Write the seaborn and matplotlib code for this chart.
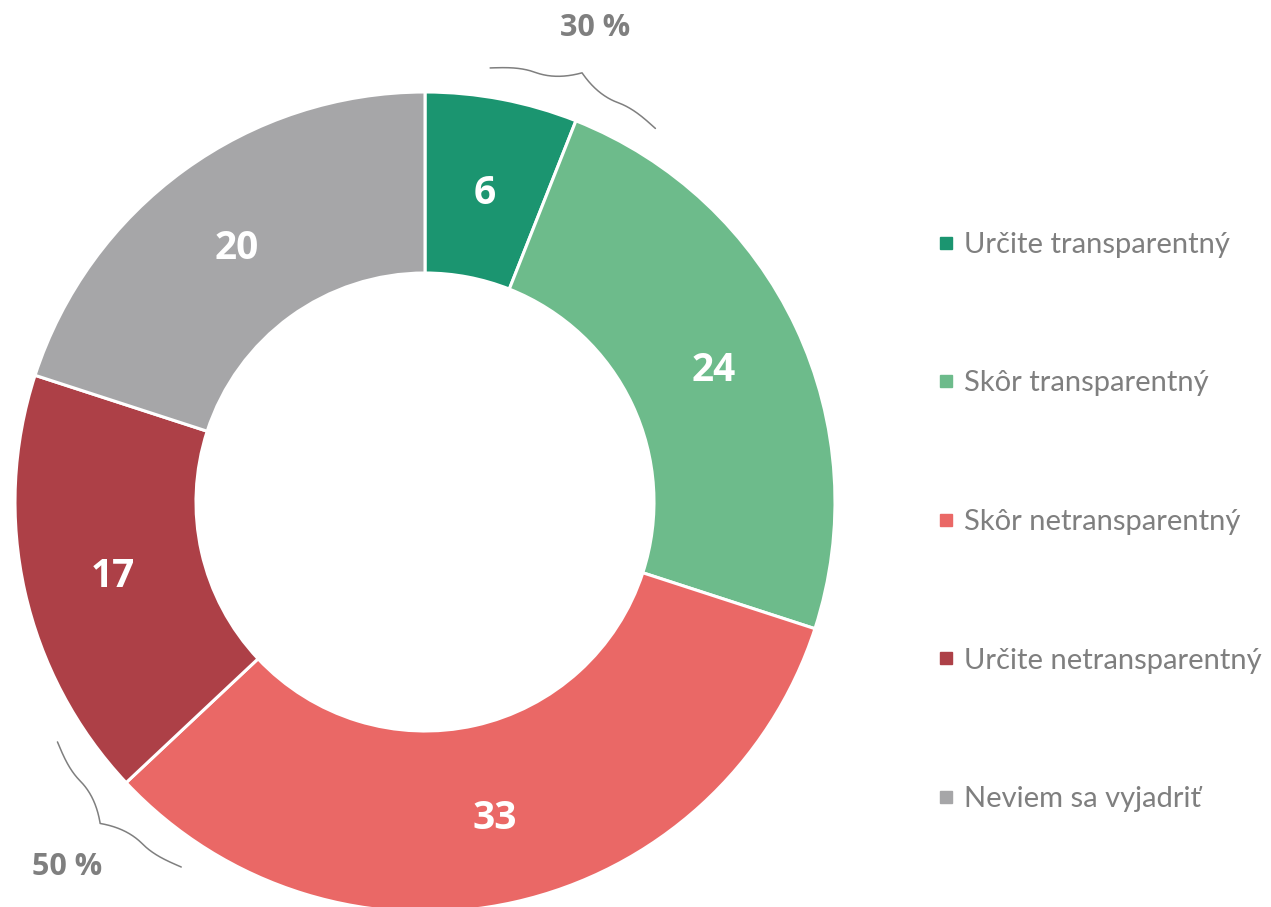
import numpy as np
import matplotlib
matplotlib.use('Agg')
import matplotlib.pyplot as plt
from matplotlib.lines import Line2D
import seaborn as sns

# data
categories = ['Určite transparentný', 'Skôr transparentný', 'Skôr netransparentný',
              'Určite netransparentný', 'Neviem sa vyjadriť']
values = [6, 24, 33, 17, 20]
colors = ['#1B9570', '#6DBB8B', '#EA6866', '#AD4047', '#A6A6A8']

sns.set_theme(style='white')
plt.rcParams['font.family'] = ['Lato', 'DejaVu Sans']
bold_font = ['Open Sans', 'DejaVu Sans']
grey = '#7F7F7F'

W, H = 1271, 907
fig = plt.figure(figsize=(W / 100, H / 100), dpi=100)
ax = fig.add_axes([0, 0, 1, 1])

# pixel-like coordinates, donut centre at (0, 0)
cx, cy = 425, 502
R, r_in = 410, 229

wedges, _ = ax.pie(values, colors=colors, radius=R, startangle=90, counterclock=False,
                   wedgeprops=dict(width=R - r_in, edgecolor='white', linewidth=2.2))
ax.set_xlim(-cx, W - cx)
ax.set_ylim(-(H - cy), cy)
ax.set_aspect('equal', adjustable='box')
ax.axis('off')

# value labels in the middle of the ring
total = sum(values)
mid_r = (R + r_in) / 2
cum = np.cumsum([0] + values)
for i, v in enumerate(values):
    ang = np.deg2rad(90 - 360 * (cum[i] + v / 2) / total)
    ax.text(mid_r * np.cos(ang), mid_r * np.sin(ang) - 5, str(v), ha='center', va='center',
            color='white', fontsize=28, fontweight='bold', family=bold_font)


def brace_path(angle_deg, r0=430, half=88, h=27):
    '''curly brace tangent to the ring at the given angle, tip pointing outwards'''
    a = np.deg2rad(angle_deg)
    n = np.array([np.cos(a), np.sin(a)])
    t = np.array([-np.sin(a), np.cos(a)])
    s = np.linspace(-1, 1, 401)
    u = np.abs(s)
    # rounded end curl and pointed tip
    end = 0.42 * h * np.sin(np.pi / 2 * np.clip((1 - u) / 0.5, 0, 1))
    tip = 0.58 * h * np.clip(1 - u / 0.5, 0, 1) ** 2
    prof = end + tip
    pts = r0 * n + (s * half)[:, None] * t + prof[:, None] * n
    ax.plot(pts[:, 0], pts[:, 1], color=grey, lw=1.1)


# braces for grouped shares: positive (first two) and negative (third + fourth)
groups = [(0, 2), (2, 4)]
for a0, a1 in groups:
    share = sum(values[a0:a1])
    boundary = 90 - 360 * cum[a0 + 1] / total
    brace_path(boundary + 1.5)
    a = np.deg2rad(boundary + 2)
    lr = 508
    ax.text(lr * np.cos(a), lr * np.sin(a) - 5, f'{share} %', ha='center', va='center',
            color=grey, fontsize=22, fontweight='bold', family=bold_font)

# legend
handles = [Line2D([0], [0], marker='s', linestyle='', markersize=9, color=c) for c in colors]
leg = ax.legend(handles, categories, loc='center left', bbox_to_anchor=(0.729, 0.4245),
                bbox_transform=fig.transFigure, frameon=False, fontsize=21,
                labelspacing=3.86, handlelength=0.5, handletextpad=0.4, borderaxespad=0)
for txt in leg.get_texts():
    txt.set_color(grey)

fig.savefig('out.png', dpi=100)
